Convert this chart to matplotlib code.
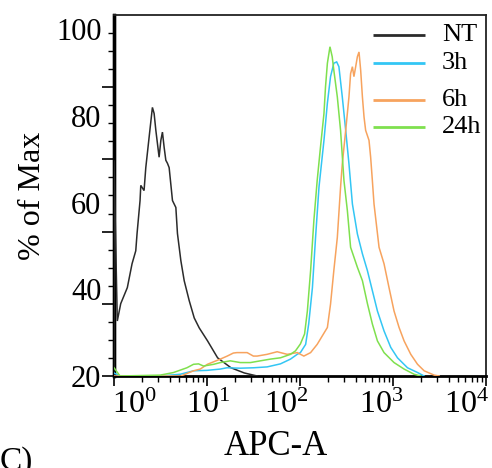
import matplotlib
matplotlib.use("Agg")
import matplotlib.pyplot as plt
from matplotlib.ticker import FixedLocator, NullFormatter, LogLocator
from matplotlib.transforms import ScaledTranslation

plt.rcParams['font.family'] = ['Liberation Serif', 'DejaVu Serif']
plt.rcParams['mathtext.fontset'] = 'custom'
plt.rcParams['mathtext.rm'] = 'Liberation Serif'
plt.rcParams['mathtext.it'] = 'Liberation Serif:italic'

# ---------------- data ----------------
series_names = ["NT", "3h", "6h", "24h"]
series_colors = ["#2b2b2b", "#33c6f4", "#f7a35e", "#7fe04e"]

nt_x = [1.00, 1.00, 1.085, 1.181, 1.391, 1.563, 1.714, 1.770, 1.906, 1.941, 2.105, 2.197,
        2.385, 2.588, 2.700, 2.818, 3.055, 3.190, 3.318, 3.460, 3.608, 3.756, 3.917,
        4.254, 4.625, 4.811, 5.237, 5.686, 6.436, 7.290, 8.25, 10.14, 13.0, 18.1,
        25.2, 34.6]
nt_y = [20.0, 69.8, 32.7, 36.7, 40.4, 45.9, 48.9, 52.9, 60.5, 64.0, 62.8, 68.1,
        75.1, 82.0, 80.6, 76.7, 70.5, 74.4, 76.3, 72.8, 69.8, 69.1, 68.1,
        60.5, 58.9, 52.9, 46.6, 42.0, 37.4, 33.4, 31.1, 28.1, 24.2, 21.9,
        20.7, 20.0]

h3_x = [1.00, 1.161, 3.13, 5.15, 7.16, 9.98, 13.9, 16.4, 22.8, 31.8, 44.3, 61.6, 79.0,
        93.3, 101, 115, 124, 136, 147, 160, 181, 197, 213, 231, 248, 262, 285, 310,
        336, 366, 414, 469, 531, 600, 680, 801, 946, 1117, 1432, 1836, 2162]
h3_y = [20.7, 20.0, 20.0, 20.4, 21.2, 21.3, 21.6, 21.9, 21.8, 21.9, 22.1, 22.8, 23.9,
        25.0, 25.4, 27.3, 32.0, 40.4, 52.0, 63.6, 74.4, 83.0, 89.1, 92.2, 92.5, 91.4, 84.4, 76.7,
        69.0, 59.7, 52.8, 48.2, 44.3, 39.7, 35.0, 30.4, 26.6, 24.2, 21.9, 20.8, 20.0]

h6_x = [1.00, 5.24, 7.16, 8.46, 10.1, 13.9, 16.5, 19.2, 21.0, 27.0, 31.5, 34.6, 44.3,
        56.8, 72.8, 93.3, 110, 130, 153, 197, 213, 231, 252, 273, 285, 310, 336, 350,
        366, 380, 397, 414, 431, 449, 469, 488, 508, 552, 575, 600, 625, 708, 801,
        906, 1026, 1162, 1316, 1553, 1836, 2162, 2773, 3140]
h6_y = [20.0, 20.0, 21.2, 21.6, 22.7, 23.9, 24.6, 25.3, 25.4, 25.4, 24.6, 24.6, 25.0,
        25.6, 25.0, 25.4, 24.6, 25.4, 27.3, 31.2, 36.6, 44.3, 52.0, 63.6, 69.0, 76.7, 84.4, 89.8,
        91.4, 89.1, 91.4, 93.7, 94.8, 90.6, 84.4, 79.8, 76.7, 74.4, 70.5, 65.1, 59.7, 49.7, 45.9,
        40.4, 35.0, 31.2, 28.1, 25.0, 22.7, 21.2, 20.2, 20.0]

h24_x = [1.00, 1.161, 3.13, 4.36, 6.08, 7.16, 8.11, 9.18, 11.8, 13.9, 17.8, 22.8, 29.3,
         37.5, 48.1, 61.6, 79.0, 89.4, 101, 112, 120, 130, 141, 153, 166, 181, 188, 197,
         210, 222, 231, 252, 273, 297, 323, 350, 414, 469, 531, 600, 680, 801, 1026,
         1316, 1687, 1991]
h24_y = [21.9, 20.0, 20.2, 20.8, 21.9, 22.7, 22.8, 22.3, 22.7, 23.1, 23.5, 23.1, 23.1,
         23.5, 23.9, 24.2, 25.0, 25.8, 27.4, 29.7, 35.0, 44.3, 55.9, 65.1, 72.8, 80.6, 86.7, 92.2,
         96.0, 93.7, 90.6, 84.4, 76.7, 65.1, 58.2, 49.7, 45.1, 42.0, 36.7, 32.0, 28.1, 25.4, 23.1,
         21.6, 20.4, 20.0]

x_ticks = [1, 10, 100, 1000, 10000]
x_tick_labels = [r"$\mathregular{10^{0}}$", r"$\mathregular{10^{1}}$", r"$\mathregular{10^{2}}$",
                 r"$\mathregular{10^{3}}$", r"$\mathregular{10^{4}}$"]
y_ticks = [20, 40, 60, 80, 100]
y_tick_labels = ["20", "40", "60", "80", "100"]

# ---------------- figure ----------------
fig = plt.figure(figsize=(4.92, 4.68), dpi=100)
ax = fig.add_axes([114/492, 1 - 376/468, 372/492, 361/468])

xs = [nt_x, h3_x, h6_x, h24_x]
ys = [nt_y, h3_y, h6_y, h24_y]
order = [0, 2, 1, 3]
for i in order:
    ax.plot(xs[i], ys[i], color=series_colors[i], lw=1.1, zorder=3 + i,
            solid_joinstyle='miter')

ax.set_xscale('log')
ax.set_xlim(1, 10000)
ax.set_ylim(20, 103.33)

# spines
for s in ['top', 'right']:
    ax.spines[s].set_linewidth(1.3)
    ax.spines[s].set_color('#222222')
ax.spines['left'].set_linewidth(2.4)
ax.spines['bottom'].set_linewidth(2.0)

# x ticks
ax.xaxis.set_major_locator(FixedLocator(x_ticks))
ax.set_xticklabels(x_tick_labels, fontsize=23)
ax.xaxis.set_minor_locator(LogLocator(base=10, subs=range(2, 10), numticks=20))
ax.xaxis.set_minor_formatter(NullFormatter())
ax.tick_params(axis='x', which='major', direction='out', length=7, width=1.2, pad=4)
ax.tick_params(axis='x', which='minor', direction='out', length=4, width=1.0)
x_offsets_px = [20, 1, -14, -12, -19]
for lbl, dx in zip(ax.get_xticklabels(), x_offsets_px):
    lbl.set_transform(lbl.get_transform() + ScaledTranslation(dx / 100, 0, fig.dpi_scale_trans))

# y labels (no marks) on main axis
ax.yaxis.set_major_locator(FixedLocator(y_ticks))
ax.set_yticklabels(y_tick_labels, fontsize=22)
ax.yaxis.set_minor_locator(FixedLocator([]))
ax.tick_params(axis='y', which='major', length=0, pad=9)

# y tick marks of the original 0-100 histogram scale
sec = ax.secondary_yaxis('left', functions=(lambda v: (v - 20) * 1.2, lambda u: u / 1.2 + 20))
sec.yaxis.set_major_locator(FixedLocator(range(0, 101, 20)))
sec.yaxis.set_minor_locator(FixedLocator(range(0, 101, 5)))
sec.yaxis.set_major_formatter(NullFormatter())
sec.yaxis.set_minor_formatter(NullFormatter())
sec.tick_params(which='major', length=9, width=1.2, direction='out')
sec.tick_params(which='minor', length=4.5, width=1.0, direction='out')
sec.spines['left'].set_linewidth(2.4)

ax.set_xlabel("APC-A", fontsize=25)
ax.xaxis.set_label_coords(0.435, -0.15)
ax.set_ylabel("% of Max", fontsize=23)
ax.yaxis.set_label_coords(-0.18, 0.5)

# legend (manual, matching layout)
leg_y = [0.945, 0.867, 0.765, 0.690]
for name, col, yy in zip(series_names, series_colors, leg_y):
    ax.plot([0.696, 0.836], [yy, yy], transform=ax.transAxes, color=col, lw=2.0,
            solid_capstyle='butt', zorder=10, clip_on=False)
    ax.text(0.882, yy, name, transform=ax.transAxes, fontsize=19, va='center', ha='left',
            zorder=10)

fig.text(0.0, 1 - 446/468, "C)", fontsize=24, va='top', ha='left')

fig.savefig("out.png", dpi=100)
